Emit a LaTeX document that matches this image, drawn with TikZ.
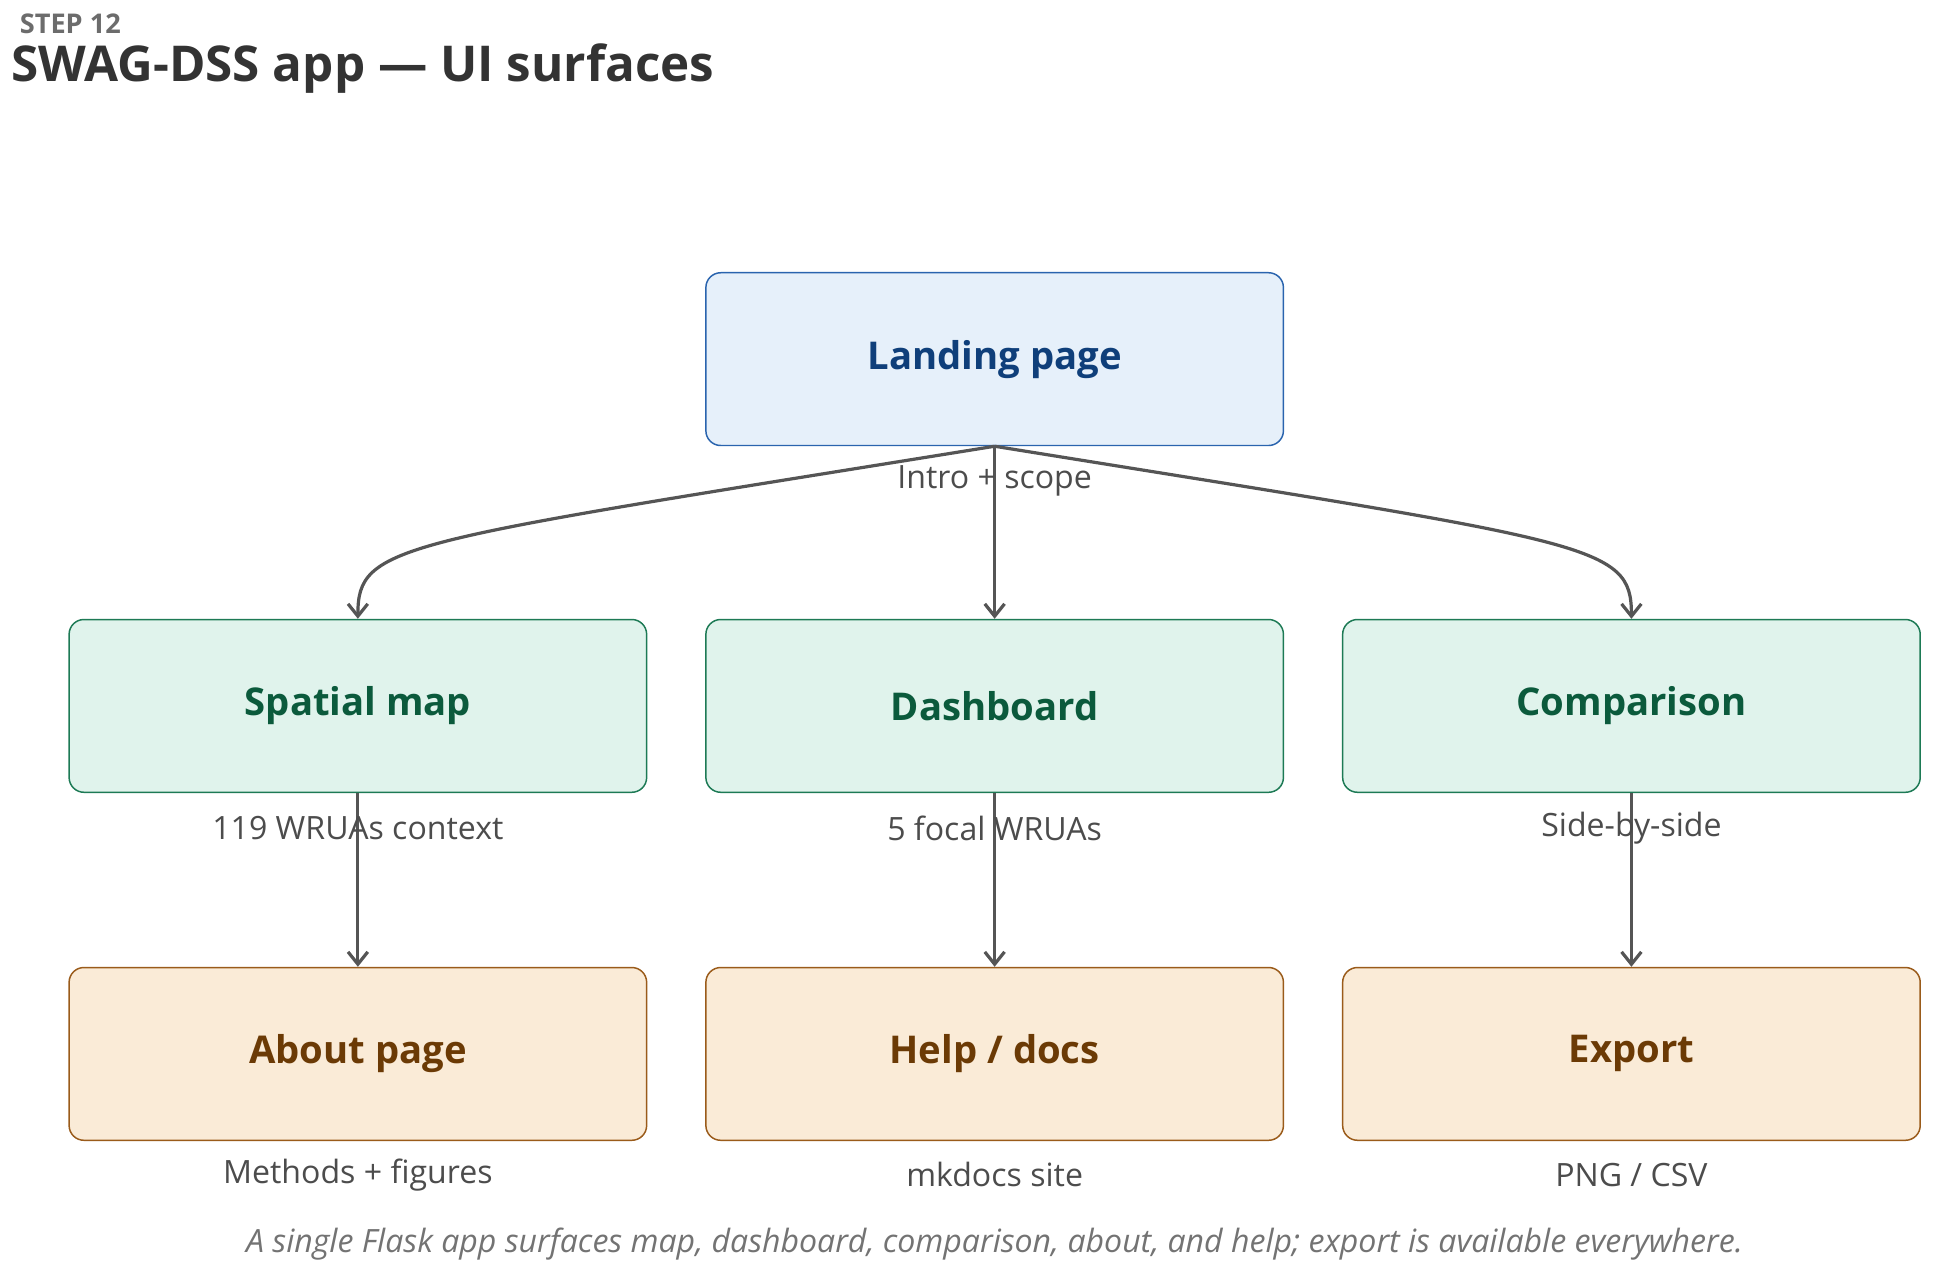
\documentclass[tikz,border=0pt]{standalone}
\usepackage{fontspec}
\setmainfont{Open Sans}
\usetikzlibrary{arrows.meta}
\definecolor{lfill}{HTML}{E6F0FA}\definecolor{ldraw}{HTML}{2A64AE}\definecolor{ltext}{HTML}{0F3F7A}
\definecolor{gfill}{HTML}{E0F3EC}\definecolor{gdraw}{HTML}{1D7A55}\definecolor{gtext}{HTML}{0B5A3C}
\definecolor{ofill}{HTML}{FAEBD7}\definecolor{odraw}{HTML}{9A5B1A}\definecolor{otext}{HTML}{6B3A05}
\definecolor{arr}{HTML}{555555}
\begin{document}
\begin{tikzpicture}[x=0.5pt,y=-0.5pt,
 box/.style={rounded corners=6pt,line width=0.6pt,minimum width=234pt,minimum height=70pt,font=\fontsize{15.5}{18}\selectfont\bfseries,inner sep=0pt},
 lb/.style={draw=ldraw,fill=lfill,text=ltext},
 gb/.style={draw=gdraw,fill=gfill,text=gtext},
 ob/.style={draw=odraw,fill=ofill,text=otext},
 sub/.style={font=\fontsize{13}{15}\selectfont,text=arr!90!black},
 con/.style={draw=arr,line width=1.3pt,-{Straight Barb[length=5pt,width=8pt]}}]
\useasboundingbox (0,0) rectangle (1568,1035);
\node[anchor=base west,text=gray!85!black,font=\fontsize{11}{13}\selectfont\bfseries] (st) at (9,27) {STEP 12};
\node[anchor=base west,text=black!80,font=\fontsize{20}{24}\selectfont\bfseries,inner sep=0pt] (ti) at (9,66) {SWAG-DSS app — UI surfaces};
\node[box,lb] (L) at (806,291) {Landing page};
\node[box,gb] (S) at (290,572) {Spatial map};
\node[box,gb] (D) at (806,572) {Dashboard};
\node[box,gb] (C) at (1322,572) {Comparison};
\node[box,ob] (A) at (290,854) {About page};
\node[box,ob] (H) at (806,854) {Help / docs};
\node[box,ob] (E) at (1322,854) {Export};
\draw[con] (L.south) .. controls (320,440) and (290,440) .. (S.north);
\draw[con] (L.south) .. controls (1292,440) and (1322,440) .. (C.north);
\draw[con] (L.south) -- (D.north);
\draw[con] (S.south) -- (A.north);
\draw[con] (D.south) -- (H.north);
\draw[con] (C.south) -- (E.north);
\node[sub] (l1) at (806,390) {Intro + scope};
\node[sub] (l2) at (290,671) {119 WRUAs context};
\node[sub] (l3) at (806,671) {5 focal WRUAs};
\node[sub] (l4) at (1322,671) {Side-by-side};
\node[sub] (l5) at (290,952) {Methods + figures};
\node[sub] (l6) at (806,952) {mkdocs site};
\node[sub] (l7) at (1322,952) {PNG / CSV};
\node[font=\fontsize{13}{15}\selectfont\itshape,text=gray!90!black] (cap) at (806,1008) {A single Flask app surfaces map, dashboard, comparison, about, and help; export is available everywhere.};
\end{tikzpicture}
\end{document}
